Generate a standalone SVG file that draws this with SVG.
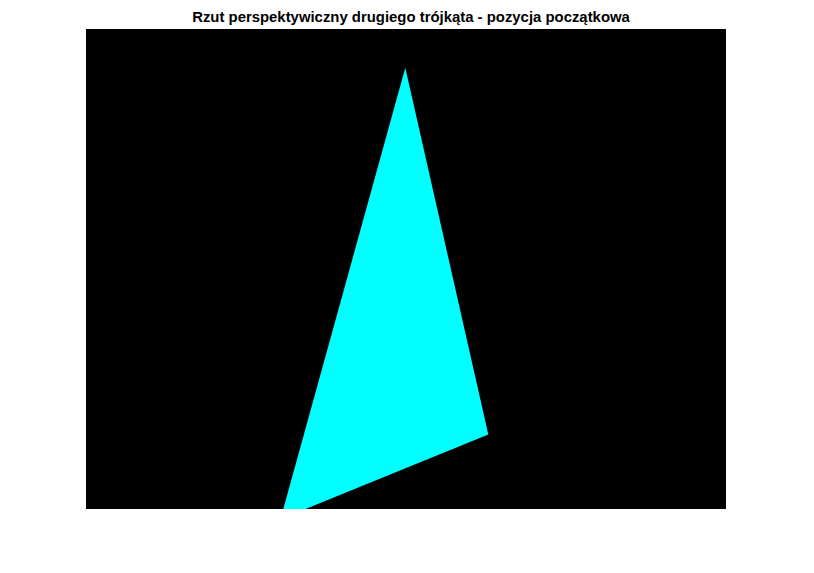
<svg xmlns="http://www.w3.org/2000/svg" width="814" height="573" viewBox="0 0 814 573">
<style>
.title{font-family:"Liberation Sans",Arial,sans-serif;font-size:14.9px;font-weight:bold;fill:#000}
</style>
<rect x="0" y="0" width="814" height="573" fill="#fff"/>
<g id="axes">
<rect x="86" y="29" width="640" height="480" fill="#000"/>
<polygon points="405.3,67.7 488.3,434.5 305.5,509 283.3,509" fill="#0ff"/>
</g>
<text class="title" x="411" y="22" text-anchor="middle">Rzut perspektywiczny drugiego trójkąta - pozycja początkowa</text>
</svg>
